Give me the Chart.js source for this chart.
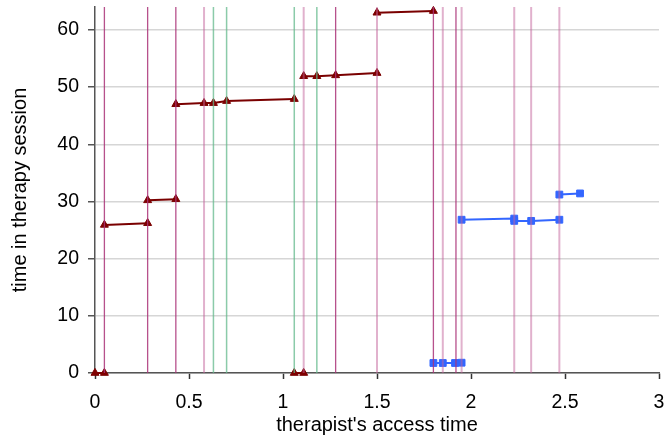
<!DOCTYPE html>
<html>
<head>
<meta charset="utf-8">
<script src="https://cdn.jsdelivr.net/npm/chart.js@4/dist/chart.umd.min.js"></script>
<style>
  html, body { margin: 0; padding: 0; background: #fff; }
  canvas { display: block; }
</style>
</head>
<body>
<canvas id="accessChart" width="665" height="440"></canvas>
<script>
// session segments, null separates one run from the next
const sessionAX = [0, 0.05, null, 0.05, 0.28, null, 0.28, 0.43, null, 0.43, 0.58, 0.63, 0.70, 1.06, null, 1.06, 1.11, null, 1.11, 1.18, 1.28, 1.50, null, 1.50, 1.80];
const sessionAY = [0, 0, null, 25.9, 26.2, null, 30.2, 30.4, null, 47.0, 47.2, 47.2, 47.55, 47.9, null, 0, 0, null, 51.9, 51.9, 52.05, 52.45, null, 63.0, 63.3];

const sessionBX = [1.80, 1.85, 1.915, 1.95, null, 1.95, 2.23, 2.23, 2.32, 2.47, null, 2.47, 2.58];
const sessionBY = [1.75, 1.75, 1.75, 1.8, null, 26.8, 27.0, 26.6, 26.6, 26.8, null, 31.2, 31.4];

// access moments drawn as full-height markers
const accessDark = [0.05, 0.28, 0.43, 1.28, 1.80, 1.92];
const accessLight = [0.58, 1.11, 1.50, 1.85, 1.95, 2.23, 2.32, 2.47];
const accessGreen = [0.63, 0.70, 1.06, 1.18];

const xTicks = [0, 0.5, 1, 1.5, 2, 2.5, 3];
const yTicks = [0, 10, 20, 30, 40, 50, 60];
const yTop = 64;

const fontFamily = "'Liberation Sans', Arial, sans-serif";

function toPoints(xs, ys) {
    return xs.map((x, i) => ({ x: x === null ? NaN : x, y: ys[i] === null ? NaN : ys[i] }));
}

function markerLines(xs) {
    const pts = [];
    xs.forEach(x => {
        pts.push({ x: x, y: 0 }, { x: x, y: yTop }, { x: x, y: NaN });
    });
    return pts;
}

function lineSet(xs, color, width) {
    return {
        data: markerLines(xs),
        showLine: true,
        spanGaps: false,
        borderColor: color,
        borderWidth: width,
        pointRadius: 0,
        pointHoverRadius: 0
    };
}

const datasets = [
    lineSet(accessGreen, "rgba(100,185,140,0.75)", 1.5),
    lineSet(accessLight, "rgba(195,100,155,0.5)", 2),
    lineSet(accessDark, "rgba(170,50,120,0.85)", 1.3),
    {
        data: toPoints(sessionAX, sessionAY),
        showLine: true,
        spanGaps: false,
        borderColor: "#7a0000",
        backgroundColor: "#800000",
        borderWidth: 2,
        pointStyle: "triangle",
        pointRadius: 4.6,
        pointBorderWidth: 1,
        clip: false
    },
    {
        data: toPoints(sessionBX, sessionBY),
        showLine: true,
        spanGaps: false,
        borderColor: "#3366ff",
        backgroundColor: "#3366ff",
        borderWidth: 2,
        pointStyle: "rect",
        pointRadius: 4.8,
        pointBorderWidth: 1,
        clip: false
    }
];

const ctx = document.getElementById("accessChart").getContext("2d");
new Chart(ctx, {
    type: "scatter",
    data: { datasets: datasets },
    options: {
        responsive: false,
        animation: false,
        layout: { padding: { top: 7, right: 6, left: 0, bottom: 0 } },
        plugins: {
            legend: { display: false },
            tooltip: { enabled: false }
        },
        scales: {
            x: {
                type: "linear",
                min: 0,
                max: 3,
                afterFit: s => {
                    s.height = 67;
                    s.paddingLeft = 0;
                    s.paddingRight = 0;
                },
                afterBuildTicks: s => { s.ticks = xTicks.map(v => ({ value: v })); },
                ticks: {
                    color: "#000",
                    font: { family: fontFamily, size: 19.5 },
                    padding: 12,
                    maxRotation: 0,
                    callback: v => String(v)
                },
                grid: {
                    drawOnChartArea: false,
                    drawTicks: true,
                    tickLength: 6,
                    tickColor: "#333",
                    tickWidth: 1.5
                },
                border: { color: "#555", width: 1.5 },
                title: {
                    display: true,
                    text: "therapist's access time",
                    color: "#000",
                    font: { family: fontFamily, size: 20 },
                    padding: { top: 0, bottom: 3 }
                }
            },
            y: {
                type: "linear",
                min: 0,
                max: yTop,
                afterFit: s => {
                    s.width = 95;
                    s.paddingTop = 0;
                    s.paddingBottom = 0;
                },
                afterBuildTicks: s => { s.ticks = yTicks.map(v => ({ value: v })); },
                ticks: {
                    color: "#000",
                    font: { family: fontFamily, size: 19.5 },
                    padding: 9,
                    callback: v => String(v)
                },
                grid: {
                    color: "#d6d6d6",
                    lineWidth: 1.5,
                    drawTicks: true,
                    tickLength: 7,
                    tickColor: "#555",
                    tickWidth: 1.5
                },
                border: { color: "#555", width: 1.5 },
                title: {
                    display: true,
                    text: "time in therapy session",
                    color: "#000",
                    font: { family: fontFamily, size: 20 },
                    padding: { top: 8, bottom: 0 }
                }
            }
        }
    }
});
</script>
</body>
</html>
